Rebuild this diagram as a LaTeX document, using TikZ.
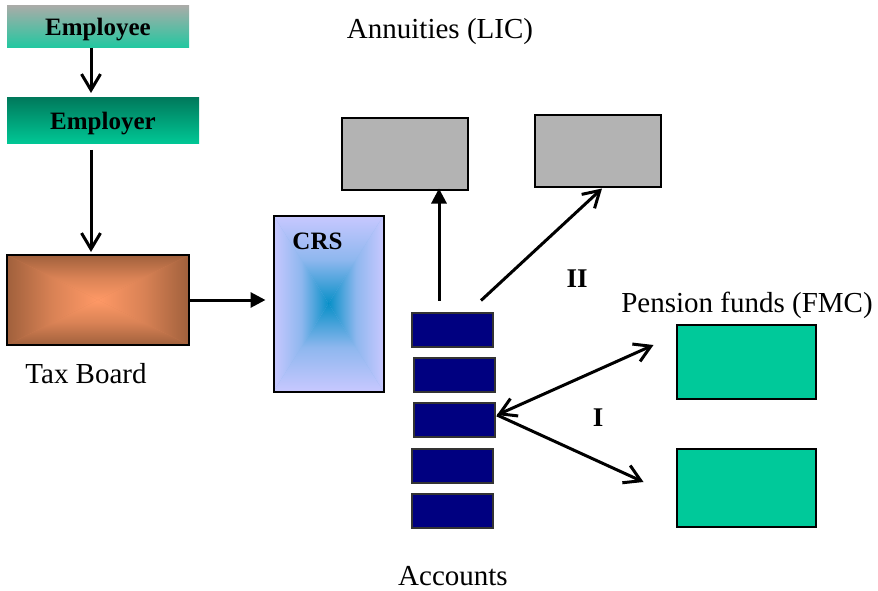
\documentclass[tikz,border=0pt]{standalone}
\usepackage{fontspec}
\setmainfont{Liberation Serif}
\usetikzlibrary{arrows.meta}
\definecolor{eeTop}{HTML}{A8ACA8}
\definecolor{eeBot}{HTML}{20C8A0}
\definecolor{erTop}{HTML}{007A5C}
\definecolor{erBot}{HTML}{00C896}
\definecolor{tbOut}{HTML}{A0603C}
\definecolor{tbIn}{HTML}{FF9966}
\definecolor{crsOut}{HTML}{C8C8FF}
\definecolor{crsIn}{HTML}{0890C8}
\definecolor{grayBox}{HTML}{B3B3B3}
\definecolor{navyBar}{HTML}{000080}
\definecolor{barEdge}{HTML}{333333}
\definecolor{greenBox}{HTML}{00C99A}
% rectangular gradient: node, outer, inner, middle
\newcommand{\rectgrad}[4]{%
  \fill[#4] (#1.north west) rectangle (#1.south east);
  \shade[top color=#2,bottom color=#3,middle color=#4] (#1.north west) -- (#1.north east) -- (#1.center) -- cycle;
  \shade[top color=#3,bottom color=#2,middle color=#4] (#1.south west) -- (#1.south east) -- (#1.center) -- cycle;
  \shade[left color=#2,right color=#3,middle color=#4] (#1.north west) -- (#1.south west) -- (#1.center) -- cycle;
  \shade[left color=#3,right color=#2,middle color=#4] (#1.north east) -- (#1.south east) -- (#1.center) -- cycle;
}
\begin{document}
\begin{tikzpicture}[x=1pt,y=-1pt,
  every node/.style={inner sep=0pt, outer sep=0pt},
  lbl/.style={font=\fontsize{29}{34}\selectfont, anchor=base},
  blbl/.style={font=\fontsize{25}{30}\selectfont\bfseries},
  rlbl/.style={font=\fontsize{27}{30}\selectfont\bfseries, anchor=base},
  edgebox/.style={draw=black, line width=2pt},
  graybox/.style={edgebox, fill=grayBox, minimum width=126pt, minimum height=71pt},
  greenbox/.style={edgebox, fill=greenBox, minimum width=139pt},
  bar/.style={draw=barEdge, line width=2pt, fill=navyBar, minimum width=81pt, minimum height=34pt},
  barbarrow/.style={line width=3pt, -{Straight Barb[length=16pt,width=19pt]}},
  dblarrow/.style={line width=3pt, {Straight Barb[length=16pt,width=19pt]}-{Straight Barb[length=16pt,width=19pt]}},
  triarrow/.style={line width=3pt, -{Triangle[length=15pt,width=15pt]}}
]
\useasboundingbox (0,0) rectangle (878,591);

% top chain
\node[blbl, minimum width=182pt, minimum height=42pt, top color=eeTop, bottom color=eeBot,
      text height=17pt, text depth=0pt] (employee) at (98,27) {Employee};
\node[blbl, minimum width=192pt, minimum height=46pt, top color=erTop, bottom color=erBot,
      text height=17pt, text depth=0pt] (employer) at (103,121) {Employer};

% tax board
\node[minimum width=182pt, minimum height=90pt] (tax) at (98,300) {};
\rectgrad{tax}{tbOut}{tbIn}{tbOut!40!tbIn}
\draw[line width=2pt] (tax.north west) rectangle (tax.south east);
\node[lbl] (taxlbl) at (86,383) {Tax Board};

% CRS
\node[minimum width=110pt, minimum height=176pt] (crs) at (328.5,303.5) {};
\rectgrad{crs}{crsOut}{crsIn}{crsOut!70!crsIn}
\draw[line width=2pt] (crs.north west) rectangle (crs.south east);
\node[blbl, anchor=base] (crslbl) at (317.5,249) {CRS};

% annuities
\node[lbl] (annu) at (440,39) {Annuities (LIC)};
\node[graybox] (gray1) at (404.5,154) {};
\node[graybox] (gray2) at (598,151) {};

% accounts
\node[bar] (b1) at (452,329.5) {};
\node[bar] (b2) at (454.5,374.5) {};
\node[bar] (b3) at (454.5,420) {};
\node[bar] (b4) at (452,465.5) {};
\node[bar] (b5) at (452,510.5) {};
\node[lbl] (acc) at (453,585) {Accounts};

% pension funds
\node[lbl] (pens) at (747,312) {Pension funds (FMC)};
\node[greenbox, minimum height=74pt] (green1) at (746,361.5) {};
\node[greenbox, minimum height=78pt] (green2) at (746,487.5) {};

% labels
\node[rlbl] (two) at (577,287) {II};
\node[rlbl] (one) at (598,426) {I};

% connectors
\draw[barbarrow] ([xshift=-7pt]employee.south) -- ([xshift=-12pt,yshift=5pt]employer.north);
\draw[barbarrow] ([xshift=-12pt,yshift=-6pt]employer.south) -- ([xshift=-7pt,yshift=3pt]tax.north);
\draw[triarrow] (tax.east) -- ([xshift=-8pt]tax.east -| crs.west);
\draw[triarrow] ([xshift=-13pt,yshift=12pt]b1.north) -- ([xshift=34.5pt,yshift=1pt]gray1.south);
\draw[barbarrow] ([xshift=29pt,yshift=12pt]b1.north) -- ([xshift=4pt,yshift=-2pt]gray2.south);
\draw[dblarrow] ([xshift=2pt,yshift=5pt]b3.east) -- ([xshift=-23pt,yshift=16.5pt]green1.west);
\draw[barbarrow] ([xshift=2pt,yshift=5pt]b3.east) -- ([xshift=-33pt,yshift=5.5pt]green2.west);
\end{tikzpicture}
\end{document}
